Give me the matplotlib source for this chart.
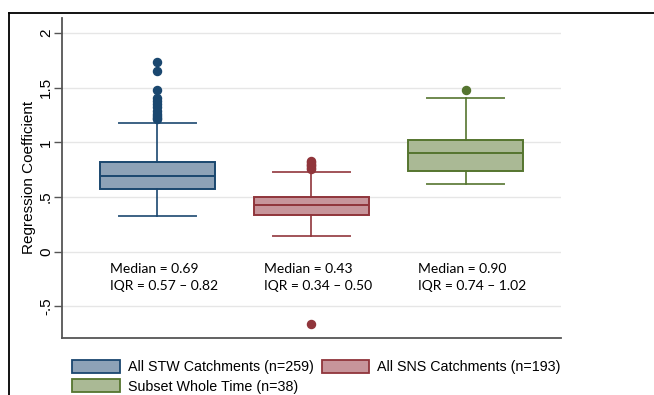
import matplotlib
matplotlib.use("Agg")
import matplotlib.pyplot as plt
from matplotlib.patches import Patch
from matplotlib.lines import Line2D

plt.rcParams['font.family'] = ['Liberation Sans', 'DejaVu Sans']

# Box summaries of the regression coefficients per group
groups = ["All STW Catchments (n=259)", "All SNS Catchments (n=193)", "Subset Whole Time (n=38)"]
medians = [0.69, 0.43, 0.90]
q1 = [0.57, 0.34, 0.74]
q3 = [0.82, 0.50, 1.02]
whisker_lo = [0.33, 0.14, 0.62]
whisker_hi = [1.18, 0.73, 1.41]
outliers_stw = [1.74, 1.65, 1.48, 1.41, 1.38, 1.35, 1.32, 1.29, 1.26, 1.24, 1.22, 1.21]
outliers_sns = [0.83, 0.82, 0.80, 0.79, 0.78, 0.77, 0.76, -0.66]
outliers_sub = [1.48]
yticks = [-0.5, 0, 0.5, 1, 1.5, 2]
yticklabels = ["-.5", "0", ".5", "1", "1.5", "2"]

edge_colors = ["#1a476f", "#90353b", "#55752f"]
fill_colors = ["#8da2b7", "#c7959b", "#aab995"]

fig = plt.figure(figsize=(6.54, 3.95), dpi=100)
ax = fig.add_axes([62/654, 1-337.7/395, (561-62)/654, (337.7-18)/395])

stats = []
for i, fl in enumerate([outliers_stw, outliers_sns, outliers_sub]):
    stats.append(dict(med=medians[i], q1=q1[i], q3=q3[i],
                      whislo=whisker_lo[i], whishi=whisker_hi[i],
                      fliers=fl, label=groups[i]))

positions = [1, 2, 3]
for i, st in enumerate(stats):
    ec, fc = edge_colors[i], fill_colors[i]
    ax.bxp([st], positions=[positions[i]], widths=0.75, capwidths=0.5,
           patch_artist=True, showfliers=True,
           boxprops=dict(facecolor=fc, edgecolor=ec, linewidth=1.4),
           medianprops=dict(color=ec, linewidth=1.4),
           whiskerprops=dict(color=ec, linewidth=1.2),
           capprops=dict(color=ec, linewidth=1.4, alpha=0.85),
           flierprops=dict(marker='o', markerfacecolor=ec, markeredgecolor=ec,
                           markersize=5.8, linestyle='none'),
           zorder=3)

ax.set_xlim(0.381, 3.619)
ax.set_ylim(-0.787, 2.138)
ax.set_xticks([])
ax.set_yticks(yticks)
ax.set_yticklabels(yticklabels, rotation=90, va='center', fontsize=11)
ax.tick_params(axis='y', length=6, width=1, color='#555555', pad=0.5)
ax.grid(axis='y', color='#e6e6e6', linewidth=1.0, zorder=0)
ax.set_axisbelow(True)
for s in ['top', 'right']:
    ax.spines[s].set_visible(False)
for s in ['left', 'bottom']:
    ax.spines[s].set_color('#555555')
    ax.spines[s].set_linewidth(1.3)
ax.set_ylabel("Regression Coefficient", fontsize=11)
ax.yaxis.set_label_coords(-0.052, 0.5)

# Summary text under each box
for i in range(3):
    x0 = positions[i] - 0.31
    ax.text(x0, -0.161, f"Median = {medians[i]:.2f}",
            fontsize=10, family=['Lato', 'DejaVu Sans'], va='center', ha='left', zorder=4)
    ax.text(x0, -0.316, f"IQR = {q1[i]:.2f} \u2013 {q3[i]:.2f}",
            fontsize=10, family=['Lato', 'DejaVu Sans'], va='center', ha='left', zorder=4)

handles = [Patch(facecolor=fill_colors[0], edgecolor=edge_colors[0], linewidth=1.3, label=groups[0]),
           Patch(facecolor=fill_colors[2], edgecolor=edge_colors[2], linewidth=1.3, label=groups[2]),
           Patch(facecolor=fill_colors[1], edgecolor=edge_colors[1], linewidth=1.3, label=groups[1])]
fig.legend(handles=handles, ncol=2, loc='upper left',
           bbox_to_anchor=(72/654, 1-360/395), frameon=False, fontsize=10.3,
           handlelength=3.35, handleheight=1.0, handletextpad=0.55,
           columnspacing=0.55, labelspacing=0.35, borderpad=0, borderaxespad=0)

# Outer frame line along the top and left
fig.add_artist(Line2D([9/654, 1], [1-13/395, 1-13/395], color='black', linewidth=1.3,
                      transform=fig.transFigure))
fig.add_artist(Line2D([9/654, 9/654], [0, 1-13/395], color='black', linewidth=1.3,
                      transform=fig.transFigure))

fig.savefig("out.png", dpi=100)
